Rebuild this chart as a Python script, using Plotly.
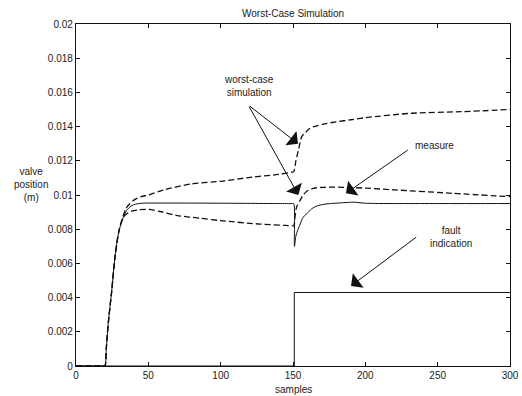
import plotly.graph_objects as go

# ---- data ----
meas_x = [0, 19, 20, 21, 22.3, 24.7, 27, 29.7, 32.7, 35, 38, 42, 46, 60, 100, 140, 149.5, 150.5, 151, 152, 153.5, 155, 157, 159.5, 163, 166.5, 171, 176, 185, 192, 200, 250, 300]
meas_y = [0, 0, 0, 0.0011, 0.0025, 0.0044, 0.0064, 0.0079, 0.0087, 0.0091, 0.00935, 0.00948, 0.00952, 0.00953, 0.00952, 0.0095, 0.0095, 0.0095, 0.0070, 0.0076, 0.0080, 0.0083, 0.0087, 0.0089, 0.0092, 0.00936, 0.00945, 0.0095, 0.00955, 0.00958, 0.00952, 0.0095, 0.0095]

upper_x = [0, 19, 20, 21, 22.3, 24.7, 27, 29.7, 32.7, 34.5, 36.2, 40, 45, 50, 61, 80, 100, 122, 140, 149.5, 150.5, 152, 153.7, 156, 158, 161.7, 166, 171, 180, 190, 200, 232, 266, 300]
upper_y = [0, 0, 0, 0.0011, 0.0025, 0.0044, 0.0064, 0.0079, 0.0088, 0.0092, 0.0094, 0.0097, 0.0099, 0.0100, 0.0103, 0.01065, 0.0108, 0.01105, 0.0112, 0.01134, 0.01136, 0.0120, 0.0126, 0.0134, 0.0136, 0.0139, 0.01403, 0.01415, 0.01428, 0.0144, 0.01452, 0.01478, 0.01487, 0.0150]

lower_x = [0, 19, 20, 21, 22.3, 24.7, 27, 29.7, 32.7, 35, 38.5, 44, 50, 59, 70, 86, 100, 127, 145, 149.5, 150.5, 151.5, 152.5, 155, 157, 160, 164, 171, 185, 200, 220, 260, 300]
lower_y = [0, 0, 0, 0.0011, 0.0025, 0.0044, 0.0064, 0.0079, 0.0087, 0.0089, 0.00905, 0.00914, 0.00916, 0.00902, 0.0088, 0.00864, 0.0085, 0.0083, 0.00822, 0.0082, 0.0082, 0.0088, 0.0093, 0.0097, 0.0100, 0.01025, 0.01039, 0.01045, 0.01045, 0.0104, 0.0103, 0.0101, 0.0099]

fault_x = [0, 150.9, 150.9, 300]
fault_y = [0, 0, 0.0043, 0.0043]

x_ticks = [0, 50, 100, 150, 200, 250, 300]
y_ticks = [0, 0.002, 0.004, 0.006, 0.008, 0.01, 0.012, 0.014, 0.016, 0.018, 0.02]
y_tick_text = ["0", "0.002", "0.004", "0.006", "0.008", "0.01", "0.012", "0.014", "0.016", "0.018", "0.02"]

FONT = "Arial, Liberation Sans, sans-serif"
INK = "#111111"
TXT = "#222222"

fig = go.Figure()
dash = "6px,3px"
fig.add_trace(go.Scatter(x=upper_x, y=upper_y, mode="lines", line=dict(color=INK, width=1.3, dash=dash, shape="spline", smoothing=0.8), hoverinfo="skip"))
fig.add_trace(go.Scatter(x=lower_x, y=lower_y, mode="lines", line=dict(color=INK, width=1.3, dash=dash, shape="spline", smoothing=0.8), hoverinfo="skip"))
fig.add_trace(go.Scatter(x=meas_x, y=meas_y, mode="lines", line=dict(color=INK, width=1, shape="spline", smoothing=0.8), hoverinfo="skip"))
fig.add_trace(go.Scatter(x=fault_x, y=fault_y, mode="lines", line=dict(color=INK, width=1), hoverinfo="skip"))

axis_common = dict(showgrid=False, zeroline=False, showline=True, linecolor=INK, linewidth=1.2,
                   mirror="ticks", ticks="inside", ticklen=4, tickcolor=INK, automargin=False,
                   tickfont=dict(family=FONT, size=10, color=TXT))
fig.update_xaxes(range=[0, 300], tickvals=x_ticks, **axis_common)
fig.update_yaxes(range=[0, 0.02], tickvals=y_ticks, ticktext=y_tick_text, **axis_common)

arrow = dict(showarrow=True, arrowhead=1, arrowsize=3, arrowwidth=1, arrowcolor=INK,
             axref="x", ayref="y", xref="x", yref="y", text="")
annotations = [
    dict(x=153.5, y=0.0130, ax=119.1, ay=0.01526, **arrow),
    dict(x=153.7, y=0.0100, ax=119.1, ay=0.01526, **arrow),
    dict(x=186.6, y=0.0101, ax=230.4, ay=0.01269, **arrow),
    dict(x=190.1, y=0.00468, ax=236.2, ay=0.0076, **arrow),
    dict(x=119.6, y=0.01637, xref="x", yref="y", showarrow=False, text="worst-case<br>simulation",
         font=dict(family=FONT, size=10, color=TXT), xanchor="center", yanchor="middle"),
    dict(x=247.7, y=0.01288, xref="x", yref="y", showarrow=False, text="measure",
         font=dict(family=FONT, size=10, color=TXT), xanchor="center", yanchor="middle"),
    dict(x=258.9, y=0.00756, xref="x", yref="y", showarrow=False, text="fault<br>indication",
         font=dict(family=FONT, size=10, color=TXT), xanchor="center", yanchor="middle"),
    dict(x=-0.1037, y=0.532, xref="paper", yref="paper", showarrow=False, text="valve<br>position<br>(m)",
         font=dict(family=FONT, size=10, color=TXT), xanchor="center", yanchor="middle"),
    dict(x=0.5, y=-0.070, xref="paper", yref="paper", showarrow=False, text="samples",
         font=dict(family=FONT, size=10, color=TXT), xanchor="center", yanchor="middle"),
    dict(x=0.5, y=1.032, xref="paper", yref="paper", showarrow=False, text="Worst-Case Simulation",
         font=dict(family=FONT, size=10, color=TXT), xanchor="center", yanchor="middle"),
]

fig.update_layout(width=522, height=396, margin=dict(l=76, r=12, t=24, b=30, autoexpand=False),
                  paper_bgcolor="white", plot_bgcolor="white", showlegend=False,
                  annotations=annotations)

# remove the browser's default 8px page margin so the figure fills the window exactly
fig.write_html("out.html", config={"displayModeBar": False},
               post_script="document.body.style.margin='0';document.body.style.overflow='hidden';")
